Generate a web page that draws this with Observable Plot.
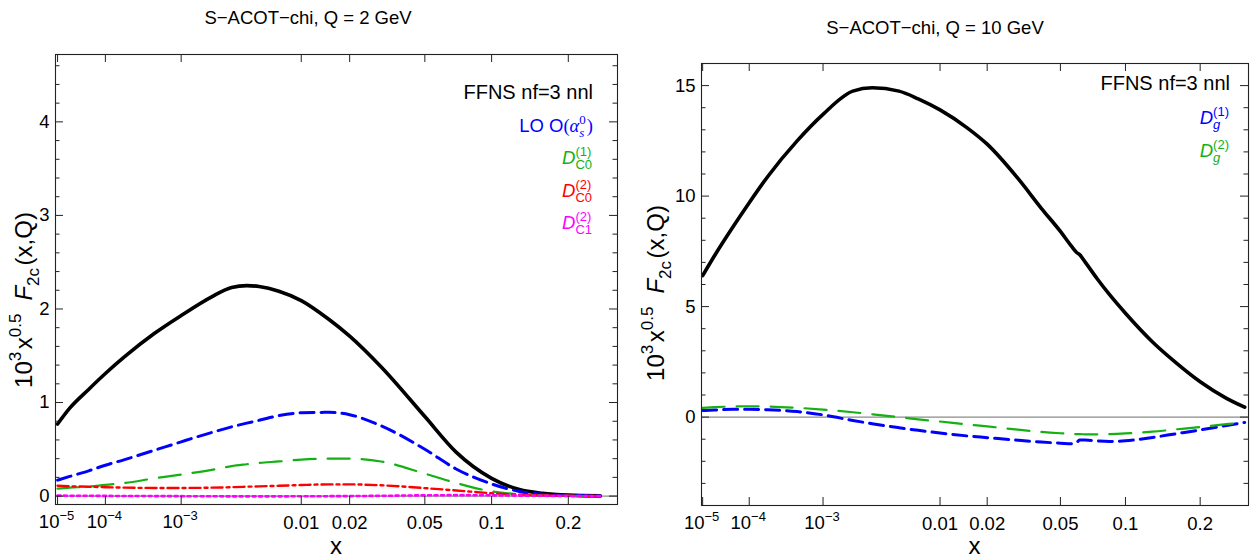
<!DOCTYPE html>
<html><head><meta charset="utf-8">
<script src="https://cdn.jsdelivr.net/npm/d3@7"></script>
<script src="https://cdn.jsdelivr.net/npm/@observablehq/plot@0.6"></script>
<style>
body{margin:0;background:#fff;}
#wrap{position:relative;width:1260px;height:560px;overflow:hidden;}
#wrap svg{position:absolute;top:0;}
</style></head><body><div id="wrap"></div>
<script>
// ---------- data ----------
const xTicks = [1e-5, 1e-4, 1e-3, 0.01, 0.02, 0.05, 0.1, 0.2];

// Q = 2 GeV panel
const xQ2 = [1e-5, 2e-5, 5e-5, 1e-4, 2e-4, 5e-4, 1e-3, 2e-3, 3e-3, 4e-3, 5e-3, 7e-3, 0.01, 0.015, 0.02, 0.03, 0.05, 0.07, 0.1, 0.13, 0.16, 0.2, 0.26];
const q2FFNS  = [0.77, 0.94, 1.14, 1.31, 1.49, 1.74, 1.93, 2.13, 2.23, 2.25, 2.24, 2.19, 2.09, 1.89, 1.71, 1.38, 0.85, 0.47, 0.19, 0.07, 0.03, 0.01, 0.002];
const q2LO    = [0.17, 0.21, 0.27, 0.33, 0.39, 0.49, 0.58, 0.68, 0.74, 0.78, 0.81, 0.86, 0.89, 0.895, 0.87, 0.75, 0.50, 0.29, 0.13, 0.05, 0.02, 0.007, 0.002];
const q2DC0_1 = [0.08, 0.09, 0.10, 0.12, 0.14, 0.19, 0.23, 0.28, 0.32, 0.34, 0.355, 0.37, 0.39, 0.40, 0.40, 0.37, 0.24, 0.14, 0.05, 0.018, 0.007, 0.002, 0.0005];
const q2DC0_2 = [0.11, 0.105, 0.10, 0.095, 0.09, 0.087, 0.087, 0.09, 0.095, 0.10, 0.104, 0.11, 0.118, 0.125, 0.125, 0.115, 0.085, 0.06, 0.03, 0.014, 0.007, 0.003, 0.001];
const q2DC1_2 = [0.005, 0.004, 0.003, 0.002, 0.001, 0, -0.001, -0.002, -0.003, -0.003, -0.003, -0.003, -0.002, -0.001, 0, 0.003, 0.008, 0.01, 0.008, 0.005, 0.003, 0.001, 0];

// Q = 10 GeV panel
const xQ10 = [1e-5, 2e-5, 5e-5, 1e-4, 2e-4, 5e-4, 1e-3, 2e-3, 3e-3, 5e-3, 7e-3, 0.01, 0.015, 0.02, 0.03, 0.04, 0.05, 0.057, 0.06, 0.062, 0.066, 0.075, 0.085, 0.1, 0.13, 0.16, 0.2, 0.25, 0.29];
const q10FFNS = [6.4, 7.3, 8.6, 9.7, 10.9, 12.5, 13.7, 14.75, 14.9, 14.75, 14.4, 13.9, 13.1, 12.35, 10.8, 9.45, 8.4, 7.7, 7.45, 7.35, 7.0, 6.25, 5.55, 4.7, 3.4, 2.5, 1.6, 0.85, 0.45];
const q10Dg1  = [0.30, 0.32, 0.35, 0.35, 0.33, 0.25, 0.10, -0.15, -0.30, -0.48, -0.60, -0.72, -0.85, -0.93, -1.05, -1.13, -1.18, -1.21, -1.15, -1.04, -1.04, -1.08, -1.10, -1.07, -0.92, -0.76, -0.58, -0.38, -0.24];
const q10Dg2  = [0.42, 0.45, 0.48, 0.49, 0.48, 0.42, 0.34, 0.22, 0.13, 0.0, -0.10, -0.20, -0.33, -0.42, -0.57, -0.67, -0.73, -0.76, -0.77, -0.77, -0.78, -0.78, -0.77, -0.74, -0.66, -0.56, -0.45, -0.32, -0.23];

const yMajorQ2 = [0, 1, 2, 3, 4];
const yMajorQ10 = [0, 5, 10, 15];

// ---------- helpers ----------
const FONT = '"Liberation Sans", Arial, Helvetica, sans-serif';
const SERIF = '"Liberation Serif", "Times New Roman", serif';

function rich(sel, x0, baseline, color, pieces, anchor, fs) {
  const g = sel.append("g").attr("fill", color).attr("text-anchor", "start");
  const mk = (txt, size, it, serif) => g.append("text")
    .attr("text-anchor", "start")
    .attr("font-size", size).attr("font-style", it ? "italic" : "normal")
    .attr("font-family", serif ? SERIF : FONT).text(txt);
  const items = []; let total = 0;
  const ss = Math.round(fs * 0.7);
  for (const p of pieces) {
    if (p.gap !== undefined) { items.push({els: [], w: p.gap}); total += p.gap; continue; }
    if (p.text !== undefined) {
      const t = mk(p.text, p.fs || fs, p.it, p.serif);
      const w = t.node().getComputedTextLength() + (p.after || 0);
      items.push({els: [[t, 0]], w}); total += w;
    } else {
      const els = []; let w = 0;
      if (p.sup !== undefined) { const t = mk(p.sup, ss, p.supIt, p.serif); els.push([t, -fs * 0.42]); w = Math.max(w, t.node().getComputedTextLength()); }
      if (p.sub !== undefined) { const t = mk(p.sub, ss, p.subIt, p.serif); els.push([t, fs * 0.32]); w = Math.max(w, t.node().getComputedTextLength()); }
      w += 1;
      items.push({els, w}); total += w;
    }
  }
  let x = anchor === "end" ? x0 - total : anchor === "middle" ? x0 - total / 2 : x0;
  for (const it of items) { for (const [t, dy] of it.els) t.attr("x", x).attr("y", baseline + dy); x += it.w; }
  return g;
}

function minorTicks(lo, hi, step, majors) {
  return d3.range(Math.ceil(lo / step), Math.floor(hi / step) + 1).map(i => +(i * step).toFixed(6))
    .filter(v => !majors.some(m => Math.abs(m - v) < 1e-9));
}

function panel(cfg) {
  const W = 630, H = 560;
  const {ml, mr, mt, mb} = cfg;
  const fw = W - ml - mr, fh = H - mt - mb;
  const yMinor = minorTicks(cfg.yDomain[0], cfg.yDomain[1], cfg.minorStep, cfg.yMajor);
  const tick = "#222";
  const plot = Plot.plot({
    width: W, height: H, marginLeft: ml, marginRight: mr, marginTop: mt, marginBottom: mb,
    x: {type: "pow", exponent: 0.2, domain: cfg.xDomain},
    y: {domain: cfg.yDomain},
    style: {fontFamily: FONT, fontSize: "18.5px", background: "transparent", color: "black", overflow: "visible"},
    marks: [
      Plot.ruleY([0], {stroke: "#8a8a8a", strokeWidth: 1.4}),
      ...cfg.series.map(s => Plot.line(cfg.xs.map((x, i) => ({x, y: s.values[i]})),
        {x: "x", y: "y", stroke: s.color, strokeWidth: s.width, strokeDasharray: s.dash, curve: "monotone-x", clip: true})),
      Plot.frame({stroke: tick, strokeWidth: 1.1}),
      Plot.ruleX(xTicks, {stroke: tick, insetTop: fh - 8}),
      Plot.ruleX(xTicks, {stroke: tick, insetBottom: fh - 8}),
      Plot.ruleY(cfg.yMajor, {stroke: tick, insetRight: fw - 8}),
      Plot.ruleY(cfg.yMajor, {stroke: tick, insetLeft: fw - 8}),
      Plot.ruleY(yMinor, {stroke: tick, insetRight: fw - 4.5}),
      Plot.ruleY(yMinor, {stroke: tick, insetLeft: fw - 4.5}),
      Plot.axisX(xTicks, {tickSize: 0, tickPadding: 11, tickFormat: d => d < 0.005 ? "" : String(d), label: null}),
      Plot.axisY(cfg.yMajor, {tickSize: 0, tickPadding: 6, tickFormat: d => String(d), label: null})
    ]
  });
  plot.style.left = cfg.left + "px";
  document.getElementById("wrap").appendChild(plot);
  const svg = d3.select(plot);
  const sx = plot.scale("x");
  // exponent tick labels
  for (const v of xTicks.filter(d => d < 0.005)) {
    const n = Math.round(Math.log10(v));
    rich(svg, sx.apply(v), H - mb + 11 + 13.2, "black", [{text: "10"}, {sup: "\u2212" + Math.abs(n)}], "middle", 18.5);
  }
  // title
  rich(svg, cfg.titleX, cfg.titleY, "black", [{text: cfg.title}], "middle", 18.5);
  // x label
  rich(svg, ml + fw / 2, 554, "black", [{text: "x"}], "middle", 24);
  // y label
  const gy = svg.append("g").attr("transform", `translate(${cfg.ylabX},${cfg.ylabY}) rotate(-90)`);
  rich(gy, 0, 8.5, "black", [{text: "10"}, {sup: "3"}, {gap: 1.5}, {text: "x"}, {sup: "0.5"}, {gap: 12}, {text: "F", it: true}, {sub: "2c"}, {gap: 1.5}, {text: "(x,Q)"}], "middle", 24);
  return svg;
}

// ---------- left panel ----------
const L = panel({
  left: 0, ml: 55, mr: 13, mt: 54, mb: 56,
  xDomain: [8.8e-6, 0.298], yDomain: [-0.09, 4.72], yMajor: yMajorQ2, minorStep: 0.2,
  xs: xQ2,
  series: [
    {values: q2FFNS, color: "black", width: 3.6, dash: null},
    {values: q2LO, color: "#0000ff", width: 3, dash: "14,7"},
    {values: q2DC0_1, color: "#14b014", width: 2.2, dash: "22,12"},
    {values: q2DC0_2, color: "#ff0000", width: 2.4, dash: "11,4,3,4"},
    {values: q2DC1_2, color: "#ff00ff", width: 2.6, dash: "3,3.5"}
  ],
  title: "S\u2212ACOT\u2212chi, Q = 2 GeV", titleX: 308, titleY: 24,
  ylabX: 23, ylabY: 300
});
const R1 = 593;
rich(L, R1, 99, "black", [{text: "FFNS nf=3 nnl"}], "end", 20);
rich(L, R1, 131.5, "#0000ff", [{text: "LO O"}, {text: "(", serif: true}, {text: "\u03b1", it: true, serif: true}, {sup: "0", sub: "s", subIt: true, serif: true}, {text: ")", serif: true}], "end", 18.5);
rich(L, R1, 163.5, "#14b014", [{text: "D", it: true}, {sup: "(1)", sub: "C0"}], "end", 18.5);
rich(L, R1, 196.5, "#ff0000", [{text: "D", it: true}, {sup: "(2)", sub: "C0"}], "end", 18.5);
rich(L, R1, 228.5, "#ff00ff", [{text: "D", it: true}, {sup: "(2)", sub: "C1"}], "end", 18.5);

// ---------- right panel ----------
const Rp = panel({
  left: 630, ml: 71, mr: 12, mt: 63, mb: 55,
  xDomain: [9.3e-6, 0.299], yDomain: [-4, 16], yMajor: yMajorQ10, minorStep: 1,
  xs: xQ10,
  series: [
    {values: q10FFNS, color: "black", width: 3.6, dash: null},
    {values: q10Dg1, color: "#0000ff", width: 3, dash: "14,7"},
    {values: q10Dg2, color: "#14b014", width: 2.2, dash: "22,12"}
  ],
  title: "S\u2212ACOT\u2212chi, Q = 10 GeV", titleX: 305, titleY: 34,
  ylabX: 25, ylabY: 293
});
const R2 = 600;
rich(Rp, R2, 90, "black", [{text: "FFNS nf=3 nnl"}], "end", 20);
rich(Rp, R2, 123.5, "#0000ff", [{text: "D", it: true}, {sup: "(1)", sub: "g", subIt: true}], "end", 18.5);
rich(Rp, R2, 156.5, "#14b014", [{text: "D", it: true}, {sup: "(2)", sub: "g", subIt: true}], "end", 18.5);
</script></body></html>
